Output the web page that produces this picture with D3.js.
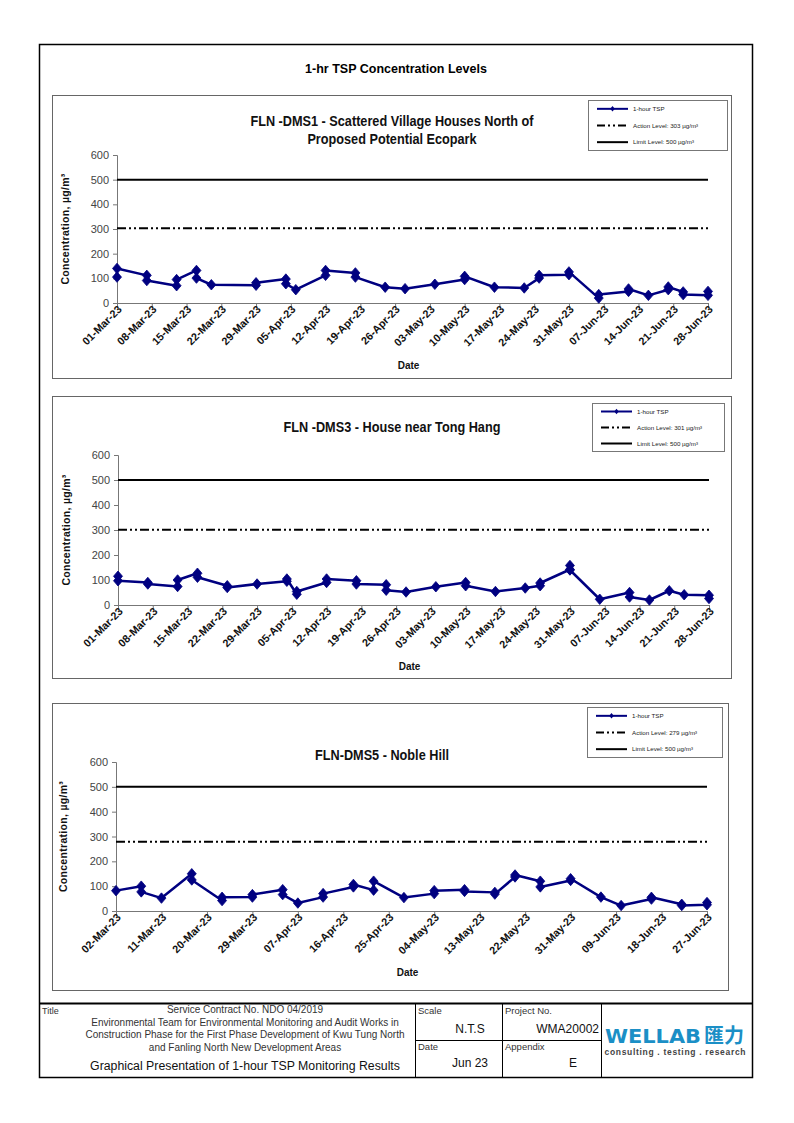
<!DOCTYPE html>
<html><head><meta charset="utf-8">
<script src="https://cdn.jsdelivr.net/npm/d3@7"></script>
<style>body{margin:0;background:#fff} svg{display:block}</style>
</head><body><svg id="c" width="794" height="1123"></svg>
<script>
// ---------------- DATA ----------------
const pageTitle = "1-hr TSP Concentration Levels";
const seriesName = "1-hour TSP";
const yTicks = [0, 100, 200, 300, 400, 500, 600];
const limitLevel = 500;

const dms1Title = ["FLN -DMS1 - Scattered Village Houses North of", "Proposed Potential Ecopark"];
const dms1Action = 303;
const dms1Ticks = ["01-Mar-23","08-Mar-23","15-Mar-23","22-Mar-23","29-Mar-23","05-Apr-23","12-Apr-23","19-Apr-23","26-Apr-23","03-May-23","10-May-23","17-May-23","24-May-23","31-May-23","07-Jun-23","14-Jun-23","21-Jun-23","28-Jun-23"];
const dms1Dates = ["01-Mar-23","01-Mar-23","07-Mar-23","07-Mar-23","13-Mar-23","13-Mar-23","17-Mar-23","17-Mar-23","20-Mar-23","29-Mar-23","29-Mar-23","04-Apr-23","04-Apr-23","06-Apr-23","12-Apr-23","12-Apr-23","18-Apr-23","18-Apr-23","24-Apr-23","28-Apr-23","04-May-23","10-May-23","10-May-23","16-May-23","22-May-23","25-May-23","25-May-23","31-May-23","31-May-23","06-Jun-23","06-Jun-23","12-Jun-23","12-Jun-23","16-Jun-23","20-Jun-23","20-Jun-23","23-Jun-23","23-Jun-23","28-Jun-23","28-Jun-23"];
const dms1Values = [105,140,112,91,70,95,132,101,74,72,82,97,78,54,112,132,122,105,64,58,76,95,108,64,61,101,112,115,126,20,34,47,57,31,54,65,45,34,31,47];

const dms3Title = ["FLN -DMS3 - House near Tong Hang"];
const dms3Action = 301;
const dms3Ticks = dms1Ticks;
const dms3Dates = ["01-Mar-23","01-Mar-23","07-Mar-23","07-Mar-23","13-Mar-23","13-Mar-23","17-Mar-23","17-Mar-23","23-Mar-23","23-Mar-23","29-Mar-23","04-Apr-23","04-Apr-23","06-Apr-23","06-Apr-23","12-Apr-23","12-Apr-23","18-Apr-23","18-Apr-23","24-Apr-23","24-Apr-23","28-Apr-23","04-May-23","10-May-23","10-May-23","16-May-23","22-May-23","25-May-23","25-May-23","31-May-23","31-May-23","31-May-23","06-Jun-23","12-Jun-23","12-Jun-23","16-Jun-23","20-Jun-23","23-Jun-23","28-Jun-23","28-Jun-23"];
const dms3Values = [115,97,90,84,74,100,127,111,77,70,84,95,104,43,54,90,104,97,84,81,59,52,73,90,77,54,68,77,88,142,158,140,23,50,32,20,57,41,39,26];

const dms5Title = ["FLN-DMS5 - Noble Hill"];
const dms5Action = 279;
const dms5Ticks = ["02-Mar-23","11-Mar-23","20-Mar-23","29-Mar-23","07-Apr-23","16-Apr-23","25-Apr-23","04-May-23","13-May-23","22-May-23","31-May-23","09-Jun-23","18-Jun-23","27-Jun-23"];
const dms5Dates = ["02-Mar-23","07-Mar-23","07-Mar-23","11-Mar-23","17-Mar-23","17-Mar-23","23-Mar-23","23-Mar-23","29-Mar-23","29-Mar-23","04-Apr-23","04-Apr-23","07-Apr-23","12-Apr-23","12-Apr-23","18-Apr-23","18-Apr-23","22-Apr-23","22-Apr-23","28-Apr-23","04-May-23","04-May-23","10-May-23","10-May-23","16-May-23","16-May-23","20-May-23","20-May-23","25-May-23","25-May-23","31-May-23","31-May-23","06-Jun-23","10-Jun-23","16-Jun-23","16-Jun-23","22-Jun-23","22-Jun-23","27-Jun-23","27-Jun-23"];
const dms5Values = [82,100,77,52,150,125,42,55,56,66,86,66,32,56,70,97,107,84,120,54,70,82,86,79,75,68,137,145,120,97,123,130,56,22,48,55,27,22,25,34];

// ---------------- DRAW ----------------
const svg = d3.select("#c");
const parse = d3.utcParse("%d-%b-%y");
const FONT = "Arial, 'Liberation Sans', sans-serif";
const NAVY = "#000080";

// wide diamond marker
const diamond = (w, h) => `M0,${-h / 2}L${w / 2},0L0,${h / 2}L${-w / 2},0Z`;

// outer frame
svg.append("rect").attr("x", 39.5).attr("y", 44.5).attr("width", 713).attr("height", 1033)
  .attr("fill", "none").attr("stroke", "#000").attr("stroke-width", 1.5);
svg.append("text").attr("x", 396).attr("y", 73).attr("text-anchor", "middle")
  .attr("font-family", FONT).attr("font-weight", "bold").attr("font-size", 12.5).text(pageTitle);

function drawChart(cfg, title, action, tickLabels, dates, values) {
  const g = svg.append("g");
  const [bx0, by0, bx1, by1] = cfg.box;
  g.append("rect").attr("x", bx0 + 0.5).attr("y", by0 + 0.5).attr("width", bx1 - bx0).attr("height", by1 - by0)
    .attr("fill", "#fff").attr("stroke", "#666").attr("stroke-width", 1);

  const [L, T, R, B] = cfg.plot;
  const ticks = tickLabels.map(parse);
  const x = d3.scaleUtc().domain([ticks[0], ticks[ticks.length - 1]]).range([L, R]);
  const y = d3.scaleLinear().domain([0, 600]).range([B, T]);

  // title (condensed look)
  title.forEach((t, i) => {
    const tt = g.append("text").attr("x", cfg.titleX).attr("y", cfg.titleY + i * 18).attr("text-anchor", "middle")
      .attr("font-family", FONT).attr("font-weight", "bold").attr("font-size", 14.5).attr("fill", "#111").text(t);
    const w = tt.node().getComputedTextLength();
    tt.attr("textLength", w * 0.875).attr("lengthAdjust", "spacingAndGlyphs");
  });

  // y axis
  const ya = g.append("g").attr("transform", `translate(${L},0)`)
    .call(d3.axisLeft(y).tickValues(yTicks).tickSize(4).tickPadding(4).tickFormat(d3.format("d")));
  ya.select(".domain").attr("stroke", "#777");
  ya.selectAll(".tick line").attr("stroke", "#777");
  ya.selectAll("text").attr("font-family", FONT).attr("font-size", 11).attr("fill", "#444");

  // x axis
  const xa = g.append("g").attr("transform", `translate(0,${B})`)
    .call(d3.axisBottom(x).tickValues(ticks).tickSize(4).tickFormat((d, i) => tickLabels[i]));
  xa.select(".domain").attr("stroke", "#777");
  xa.selectAll(".tick line").attr("stroke", "#777");
  xa.selectAll("text").attr("font-family", FONT).attr("font-weight", "bold").attr("font-size", 10.8)
    .attr("fill", "#111").attr("text-anchor", "end").attr("dy", null).attr("y", 0)
    .attr("transform", "translate(5,7) rotate(-45)");

  // axis titles
  g.append("text").attr("transform", `translate(${cfg.yLabelX},${(T + B) / 2}) rotate(-90)`)
    .attr("text-anchor", "middle").attr("font-family", FONT).attr("font-weight", "bold").attr("font-size", 10.5)
    .attr("letter-spacing", 0.3).attr("fill", "#111")
    .text("Concentration, µg/m³");
  g.append("text").attr("x", (L + R) / 2 - 4).attr("y", cfg.dateY).attr("text-anchor", "middle")
    .attr("font-family", FONT).attr("font-weight", "bold").attr("font-size", 10).attr("fill", "#111").text("Date");

  // reference lines
  g.append("line").attr("x1", L).attr("x2", R).attr("y1", y(limitLevel)).attr("y2", y(limitLevel))
    .attr("stroke", "#000").attr("stroke-width", 2);
  g.append("line").attr("x1", L).attr("x2", R).attr("y1", y(action)).attr("y2", y(action))
    .attr("stroke", "#000").attr("stroke-width", 2).attr("stroke-dasharray", "9,3,2,3,2,3");

  // series
  const pts = dates.map((d, i) => ({ d: parse(d), v: values[i] }));
  g.append("path").datum(pts).attr("fill", "none").attr("stroke", NAVY).attr("stroke-width", 2.5)
    .attr("stroke-linejoin", "round")
    .attr("d", d3.line().x(p => x(p.d)).y(p => y(p.v)));
  g.selectAll(".pt").data(pts).enter().append("path")
    .attr("transform", p => `translate(${x(p.d)},${y(p.v)})`).attr("d", diamond(9, 10.5))
    .attr("fill", NAVY).attr("stroke", NAVY).attr("stroke-width", 0.8).attr("stroke-linejoin", "round");

  // legend
  const [lx, ly, lw, lh] = cfg.legend;
  g.append("rect").attr("x", lx + 0.5).attr("y", ly + 0.5).attr("width", lw).attr("height", lh)
    .attr("fill", "#fff").attr("stroke", "#777").attr("stroke-width", 1);
  const rows = [
    { t: seriesName, stroke: NAVY, dash: null, marker: true },
    { t: `Action Level: ${action} µg/m³`, stroke: "#000", dash: "8,3,2,3,2,3", marker: false },
    { t: `Limit Level: ${limitLevel} µg/m³`, stroke: "#000", dash: null, marker: false }
  ];
  const step = lh / 3;
  rows.forEach((r, i) => {
    const cy = ly + step * (i + 0.5) + 0.5;
    g.append("line").attr("x1", lx + 9).attr("x2", lx + 40).attr("y1", cy).attr("y2", cy)
      .attr("stroke", r.stroke).attr("stroke-width", 2).attr("stroke-dasharray", r.dash);
    if (r.marker) g.append("path").attr("transform", `translate(${lx + 24.5},${cy})`)
      .attr("d", diamond(4.5, 5.5)).attr("fill", NAVY);
    g.append("text").attr("x", lx + 45).attr("y", cy + 2.2).attr("font-family", FONT)
      .attr("font-size", 6.2).attr("fill", "#222").text(r.t);
  });
}

drawChart({ box: [52, 95, 731, 378], plot: [117, 155, 708, 303], titleX: 392, titleY: 126,
  legend: [588, 100, 139, 50], yLabelX: 69, dateY: 369 },
  dms1Title, dms1Action, dms1Ticks, dms1Dates, dms1Values);
drawChart({ box: [52, 396, 731, 678], plot: [118, 455, 709, 605], titleX: 392, titleY: 432,
  legend: [592, 403, 132, 48], yLabelX: 70, dateY: 670 },
  dms3Title, dms3Action, dms3Ticks, dms3Dates, dms3Values);
drawChart({ box: [52, 703, 728, 990], plot: [116, 762, 707, 911], titleX: 382, titleY: 760,
  legend: [587, 707, 135, 50], yLabelX: 67, dateY: 976 },
  dms5Title, dms5Action, dms5Ticks, dms5Dates, dms5Values);

// ---------------- FOOTER ----------------
const f = svg.append("g").attr("font-family", FONT);
f.append("line").attr("x1", 39).attr("x2", 753).attr("y1", 1003.5).attr("y2", 1003.5).attr("stroke", "#000").attr("stroke-width", 2);
[415, 502, 601].forEach(xx => f.append("line").attr("x1", xx + 0.5).attr("x2", xx + 0.5).attr("y1", 1003).attr("y2", 1078)
  .attr("stroke", "#000").attr("stroke-width", 1));
f.append("line").attr("x1", 415).attr("x2", 601).attr("y1", 1040.5).attr("y2", 1040.5).attr("stroke", "#000").attr("stroke-width", 1);

f.append("text").attr("x", 42).attr("y", 1014).attr("font-size", 9).attr("fill", "#333").text("Title");
const footLines = ["Service Contract No. NDO 04/2019",
  "Environmental Team for Environmental Monitoring and Audit Works in",
  "Construction Phase for the First Phase Development of Kwu Tung North",
  "and Fanling North New Development Areas"];
footLines.forEach((t, i) => f.append("text").attr("x", 245).attr("y", 1013 + i * 12.7).attr("text-anchor", "middle")
  .attr("font-size", 10).attr("fill", "#333").text(t));
f.append("text").attr("x", 245).attr("y", 1069.5).attr("text-anchor", "middle").attr("font-size", 12.3).attr("fill", "#111")
  .text("Graphical Presentation of 1-hour TSP Monitoring Results");

f.append("text").attr("x", 418).attr("y", 1014).attr("font-size", 9.5).attr("fill", "#333").text("Scale");
f.append("text").attr("x", 470).attr("y", 1033).attr("text-anchor", "middle").attr("font-size", 12).attr("fill", "#111").text("N.T.S");
f.append("text").attr("x", 418).attr("y", 1050).attr("font-size", 9.5).attr("fill", "#333").text("Date");
f.append("text").attr("x", 470).attr("y", 1067).attr("text-anchor", "middle").attr("font-size", 12).attr("fill", "#111").text("Jun 23");
f.append("text").attr("x", 505).attr("y", 1014).attr("font-size", 9.5).attr("fill", "#333").text("Project No.");
f.append("text").attr("x", 599).attr("y", 1033).attr("text-anchor", "end").attr("font-size", 12).attr("fill", "#111").text("WMA20002");
f.append("text").attr("x", 505).attr("y", 1050).attr("font-size", 9.5).attr("fill", "#333").text("Appendix");
f.append("text").attr("x", 573).attr("y", 1067).attr("text-anchor", "middle").attr("font-size", 12).attr("fill", "#111").text("E");

f.append("text").attr("x", 605).attr("y", 1043).attr("font-family", "'DejaVu Sans', Arial, sans-serif").attr("font-weight", "bold")
  .attr("font-size", 20).attr("fill", "#1b8fc6").attr("textLength", 96).attr("lengthAdjust", "spacingAndGlyphs").text("WELLAB");
f.append("text").attr("x", 704).attr("y", 1043).attr("font-family", "'Noto Sans CJK TC', sans-serif").attr("font-weight", "bold")
  .attr("font-size", 20).attr("fill", "#1b8fc6").text("匯力");
f.append("text").attr("x", 675).attr("y", 1055).attr("text-anchor", "middle").attr("font-size", 8.5).attr("font-weight", "bold")
  .attr("fill", "#444").attr("textLength", 141).text("consulting . testing . research");
</script></body></html>
